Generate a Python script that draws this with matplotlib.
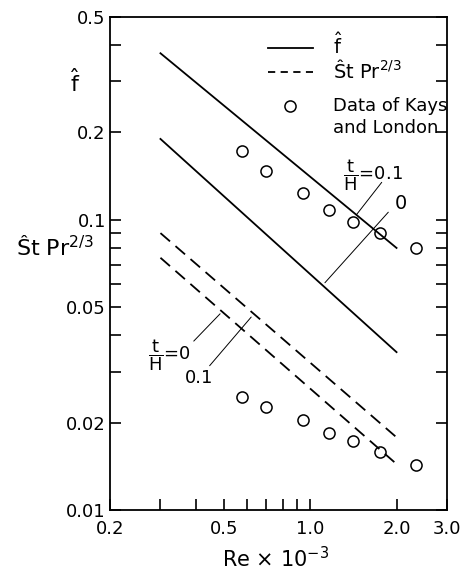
import matplotlib.pyplot as plt
from matplotlib.ticker import FixedLocator, NullFormatter

# Reynolds number (x 10^-3) for the computed lines
re_line = [0.3, 2.0]
f_t01 = [0.375, 0.080]
f_t0 = [0.190, 0.035]
st_t0 = [0.090, 0.0178]
st_t01 = [0.074, 0.0144]

# data of Kays and London
re_data = [0.58, 0.70, 0.94, 1.16, 1.41, 1.75, 2.34]
f_data = [0.173, 0.1475, 0.124, 0.108, 0.098, 0.090, 0.080]
st_data = [0.0245, 0.0227, 0.0204, 0.0184, 0.0173, 0.0158, 0.0143]

x_major = [0.2, 0.5, 1.0, 2.0, 3.0]
x_labels = ['0.2', '0.5', '1.0', '2.0', '3.0']
x_minor = [0.3, 0.4, 0.6, 0.7, 0.8, 0.9]
y_major = [0.01, 0.02, 0.05, 0.1, 0.2, 0.5]
y_labels = ['0.01', '0.02', '0.05', '0.1', '0.2', '0.5']
y_minor = [0.03, 0.04, 0.06, 0.07, 0.08, 0.09, 0.3, 0.4]

plt.rcParams['mathtext.fontset'] = 'dejavusans'
fig = plt.figure(figsize=(4.66, 5.76), dpi=100)
ax = fig.add_axes([110 / 466, 66 / 576, 337 / 466, 493 / 576])
ax.set_xscale('log')
ax.set_yscale('log')
ax.set_xlim(0.2, 3.0)
ax.set_ylim(0.01, 0.5)

lw = 1.3
ax.plot(re_line, f_t01, color='black', lw=lw)
ax.plot(re_line, f_t0, color='black', lw=lw)
ax.plot(re_line, st_t0, color='black', lw=lw, dashes=(7, 4))
ax.plot(re_line, st_t01, color='black', lw=lw, dashes=(7, 4))
ax.plot(re_data, f_data, 'o', mfc='none', mec='black', ms=8, mew=1.1)
ax.plot(re_data, st_data, 'o', mfc='none', mec='black', ms=8, mew=1.1)

ax.xaxis.set_major_locator(FixedLocator(x_major))
ax.xaxis.set_minor_locator(FixedLocator(x_minor))
ax.set_xticklabels(x_labels)
ax.xaxis.set_minor_formatter(NullFormatter())
ax.yaxis.set_major_locator(FixedLocator(y_major))
ax.yaxis.set_minor_locator(FixedLocator(y_minor))
ax.set_yticklabels(y_labels)
ax.yaxis.set_minor_formatter(NullFormatter())
ax.tick_params(which='both', direction='in', length=8, width=1.2,
               right=True, top=False, labelsize=13)
ax.tick_params(axis='x', pad=7)
ax.tick_params(axis='y', pad=3)
for s in ax.spines.values():
    s.set_linewidth(1.3)

# legend, drawn by hand
ax.plot([0.71, 1.02], [0.392, 0.392], color='black', lw=lw)
ax.plot([0.71, 1.02], [0.324, 0.324], color='black', lw=lw, dashes=(4, 3))
ax.plot([0.85], [0.247], 'o', mfc='none', mec='black', ms=8, mew=1.1)
ax.text(1.2, 0.40, r'$\hat{\mathrm{f}}$', fontsize=14, va='center')
ax.text(1.2, 0.328, r'Ŝt Pr$^{2/3}$', fontsize=14, va='center')
ax.text(1.2, 0.247, 'Data of Kays', fontsize=13, va='center')
ax.text(1.2, 0.208, 'and London', fontsize=13, va='center')

# annotations
ax.annotate('', xy=(1.43, 0.1024), xytext=(1.80, 0.137),
            arrowprops=dict(arrowstyle='-', lw=0.7))
ax.text(1.3, 0.143, r'$\dfrac{\mathrm{t}}{\mathrm{H}}$=0.1', fontsize=13, va='center')
ax.annotate('', xy=(1.108, 0.0597), xytext=(1.90, 0.108),
            arrowprops=dict(arrowstyle='-', lw=0.7))
ax.text(1.97, 0.114, '0', fontsize=14, va='center')
ax.annotate('', xy=(0.492, 0.0482), xytext=(0.386, 0.0376),
            arrowprops=dict(arrowstyle='-', lw=0.7))
ax.text(0.272, 0.0342, r'$\dfrac{\mathrm{t}}{\mathrm{H}}$=0', fontsize=13, va='center')
ax.annotate('', xy=(0.631, 0.047), xytext=(0.439, 0.0309),
            arrowprops=dict(arrowstyle='-', lw=0.7))
ax.text(0.365, 0.0285, '0.1', fontsize=13, va='center')

fig.text(75 / 466, 1 - 82 / 576, r'$\hat{\mathrm{f}}$', fontsize=16, ha='center', va='center')
fig.text(55 / 466, 1 - 247 / 576, r'Ŝt Pr$^{2/3}$', fontsize=16, ha='center', va='center')
fig.text(276 / 466, 1 - 559 / 576, r'Re $\times$ 10$^{-3}$', fontsize=15, ha='center', va='center')

fig.savefig('out.png', dpi=100)
